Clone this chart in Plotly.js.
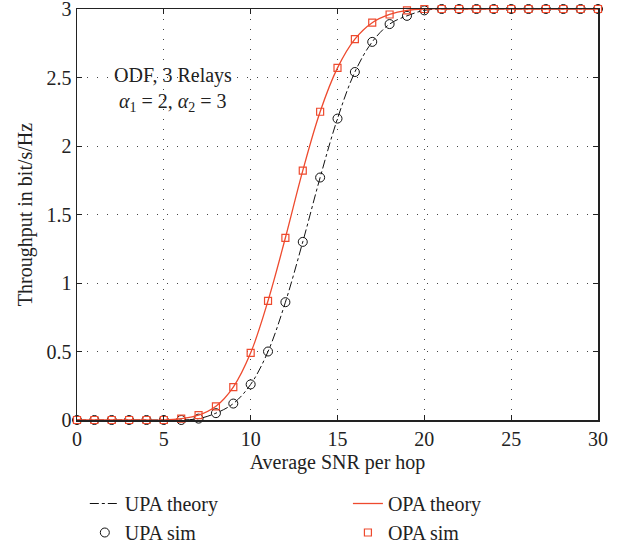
<!DOCTYPE html>
<html><head><meta charset="utf-8">
<script src="https://cdn.plot.ly/plotly-3.0.1.min.js"></script>
<style>body{margin:0}#chart{width:629px;height:552px}</style>
</head><body><div id="chart"></div>
<script>
const snr = [0,1,2,3,4,5,6,7,8,9,10,11,12,13,14,15,16,17,18,19,20,21,22,23,24,25,26,27,28,29,30];
const upaSim = [0,0,0,0,0,0,0,0.01,0.05,0.12,0.26,0.50,0.86,1.30,1.77,2.20,2.54,2.76,2.89,2.95,2.99,3,3,3,3,3,3,3,3,3,3];
const opaSim = [0,0,0,0,0,0,0.01,0.035,0.10,0.24,0.49,0.87,1.33,1.82,2.25,2.57,2.78,2.90,2.96,2.99,3,3,3,3,3,3,3,3,3,3,3];
const upaTheory = upaSim.slice();
const opaTheory = opaSim.slice();
const red = '#ee4a2e';
const font = {family: 'Liberation Serif, Times New Roman, serif', size: 20, color: '#222'};

const traces = [
  {x: snr, y: upaTheory, mode: 'lines', name: 'UPA theory', line: {color: '#111', width: 1, dash: 'dashdot', shape: 'spline'}, legend: 'legend', cliponaxis: false},
  {x: snr, y: upaSim, mode: 'markers', name: 'UPA sim', marker: {symbol: 'circle-open', size: 9, color: '#111', line: {width: 1}}, legend: 'legend', cliponaxis: false},
  {x: snr, y: opaTheory, mode: 'lines', name: 'OPA theory', line: {color: red, width: 1.3, shape: 'spline'}, legend: 'legend2', cliponaxis: false},
  {x: snr, y: opaSim, mode: 'markers', name: 'OPA sim', marker: {symbol: 'square-open', size: 7, color: red, line: {width: 1.2}}, legend: 'legend2', cliponaxis: false}
];

const axisCommon = {
  showline: true, linecolor: '#222', linewidth: 1.5, mirror: 'ticks',
  ticks: 'inside', ticklen: 5, tickcolor: '#222',
  showgrid: true, gridcolor: '#444', gridwidth: 1, griddash: '1px,9px',
  zeroline: false, tickfont: font, ticklabeloverflow: 'allow', automargin: false
};

const layout = {
  width: 629, height: 552,
  margin: {l: 77, r: 31, t: 9, b: 132},
  paper_bgcolor: '#fff', plot_bgcolor: '#fff',
  font: font,
  xaxis: Object.assign({}, axisCommon, {range: [0, 30], dtick: 5, title: {text: 'Average SNR per hop', font: font, standoff: 6}}),
  yaxis: Object.assign({}, axisCommon, {range: [0, 3], tickmode: 'array', tickvals: [0,0.5,1,1.5,2,2.5,3], ticktext: ['0','0.5','1','1.5','2','2.5','3'], title: {text: 'Throughput in bit/s/Hz', font: font, standoff: 8}}),
  showlegend: true,
  legend: {x: 0.015, y: 0.0, yref: 'container', xanchor: 'left', yanchor: 'bottom', orientation: 'v', font: font, bgcolor: 'rgba(0,0,0,0)', tracegroupgap: 0},
  legend2: {x: 0.52, y: 0.0, yref: 'container', xanchor: 'left', yanchor: 'bottom', orientation: 'v', font: font, bgcolor: 'rgba(0,0,0,0)', tracegroupgap: 0},
  annotations: [
    {xref: 'paper', yref: 'paper', x: 0.185, y: 0.87, text: 'ODF, 3 Relays', showarrow: false, font: font, xanchor: 'center'},
    {xref: 'paper', yref: 'paper', x: 0.185, y: 0.809, text: '<i>α</i><sub>1</sub> = 2, <i>α</i><sub>2</sub> = 3', showarrow: false, font: font, xanchor: 'center'}
  ]
};
Plotly.newPlot('chart', traces, layout, {displayModeBar: false, staticPlot: true});
</script>
</body></html>
